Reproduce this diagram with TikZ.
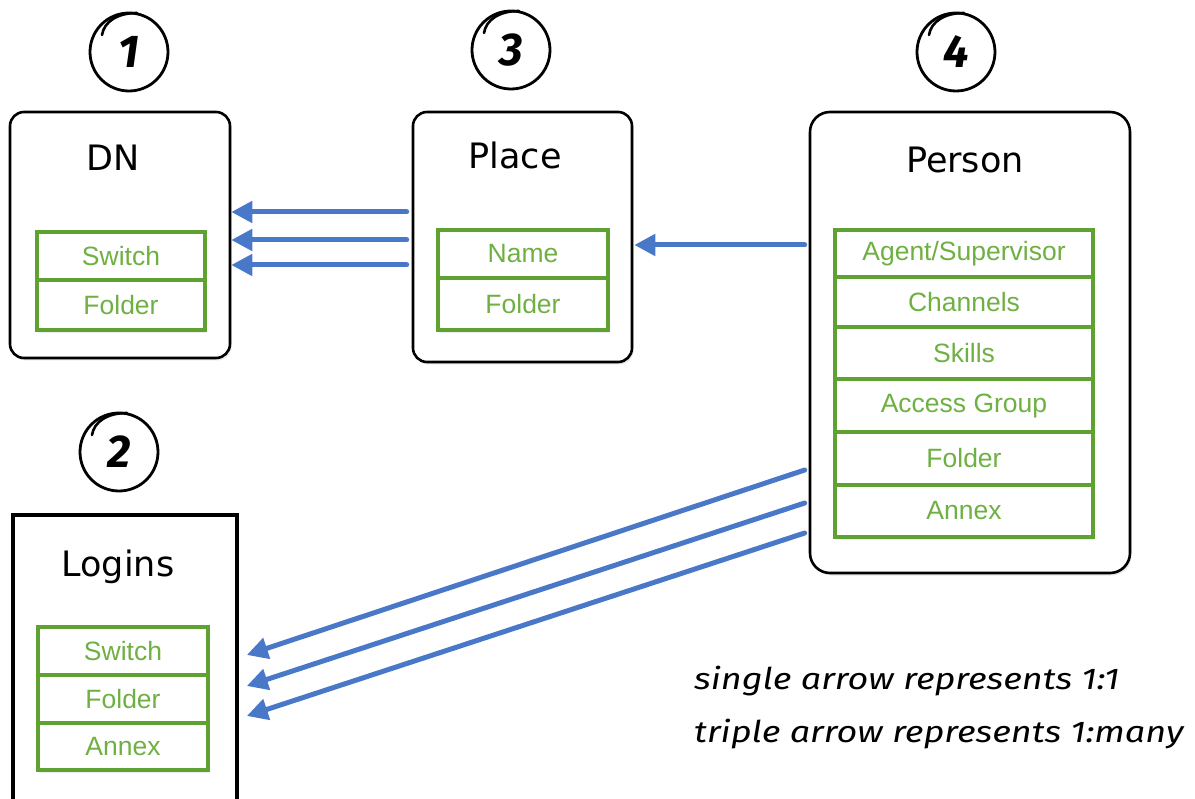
\documentclass[tikz,border=0pt]{standalone}
\usepackage{fontspec}
\setmainfont{Liberation Sans}
\newfontfamily\titlefont{DejaVu Sans}
\newfontfamily\notefont{Fira Sans}
\usetikzlibrary{arrows.meta,shadows,calc}

\definecolor{cellgreen}{HTML}{5FA231}
\definecolor{celltext}{HTML}{6FB043}
\definecolor{linkblue}{HTML}{4A78C8}

\tikzset{
  entity/.style={draw=black, line width=2.6pt, rounded corners=14pt, fill=white,
    drop shadow={opacity=0.18, shadow xshift=1.5pt, shadow yshift=-2.5pt}},
  title/.style={font=\titlefont\fontsize{35}{40}\selectfont, text=black},
  cell/.style={draw=cellgreen, line width=3.6pt, fill=white, inner sep=0pt,
    font=\fontsize{26.5}{30}\selectfont, text=celltext},
  cellshadow/.style={drop shadow={opacity=0.15,shadow xshift=1pt,shadow yshift=-3pt}},
  badge/.style={circle, draw=black, line width=2.8pt, minimum size=78pt, inner sep=0pt,
    font=\notefont\fontsize{46}{50}\selectfont\bfseries\itshape},
  badgestroke/.style={line width=2.6pt, line cap=round},
  link/.style={draw=linkblue, line width=5pt, line cap=round,
    -{Triangle[length=21pt,width=21pt]}},
  note/.style={font=\notefont\itshape\fontsize{30}{53}\selectfont, align=left, anchor=west,
    xscale=1.2, transform shape}
}

\begin{document}
\begin{tikzpicture}[x=1pt,y=-1pt]
\useasboundingbox (0,0) rectangle (1195,799);
\clip (0,0) rectangle (1195,799);

% numbered badges
\node[badge] (b1) at (129,52) {1};
\node[badge] (b3) at (511,50) {3};
\node[badge] (b4) at (956,52) {4};
\node[badge] (b2) at (119,452) {2};
% a second pen stroke inside the top-left of each ring
\foreach \b in {b1,b2,b3,b4}
  \draw[badgestroke] ($(\b.center)+(8,-39)$)
    .. controls ($(\b.center)+(-12,-39)$) and ($(\b.center)+(-25,-30)$)
    .. ($(\b.center)+(-27,-17)$);

% DN
\node[entity, minimum width=220pt, minimum height=246pt] (DN) at (120,235) {};
\node[title] (DNt) at (113,158) {DN};
\node[cell, cellshadow, minimum width=168pt, minimum height=50pt] (DNfo) at (121,305) {Folder};
\node[cell, minimum width=168pt, minimum height=48pt] (DNsw) at (121,256) {Switch};

% Place
\node[entity, minimum width=219pt, minimum height=250pt] (Place) at (522.5,237) {};
\node[title] (Placet) at (515,155) {Place};
\node[cell, cellshadow, minimum width=170pt, minimum height=52pt] (Plfo) at (523,304) {Folder};
\node[cell, minimum width=170pt, minimum height=48pt] (Plna) at (523,254) {Name};

% Person
\node[entity, rounded corners=20pt, minimum width=320pt, minimum height=461pt] (Person) at (970,342.5) {};
\node[title] (Persont) at (965,160) {Person};
\node[cell, cellshadow, minimum width=258pt, minimum height=52pt] (Pean) at (964,511) {Annex};
\node[cell, minimum width=258pt, minimum height=53pt] (Pefo) at (964,458.5) {Folder};
\node[cell, minimum width=258pt, minimum height=53pt] (Peac) at (964,405.5) {Access Group};
\node[cell, minimum width=258pt, minimum height=52pt] (Pesk) at (964,353) {Skills};
\node[cell, minimum width=258pt, minimum height=50pt] (Pech) at (964,302) {Channels};
\node[cell, minimum width=258pt, minimum height=47pt] (Peag) at (964,253.5) {Agent/Supervisor};

% Logins
\node[draw=black, line width=3.6pt, fill=white, minimum width=224pt, minimum height=305pt] (Logins) at (125,667.5) {};
\node[title] (Loginst) at (118,567) {Logins};
\node[cell, cellshadow, minimum width=170pt, minimum height=47pt] (Loan) at (123,746.5) {Annex};
\node[cell, minimum width=170pt, minimum height=48pt] (Lofo) at (123,699) {Folder};
\node[cell, minimum width=170pt, minimum height=48pt] (Losw) at (123,651) {Switch};

% Place -> DN (one to many)
\draw[link] ([xshift=-5pt]Place.west |- 0,212) -- (DN.east |- 0,212);
\draw[link] ([xshift=-5pt]Place.west |- 0,240) -- (DN.east |- 0,240);
\draw[link] ([xshift=-5pt]Place.west |- 0,265) -- (DN.east |- 0,265);

% Person -> Place (one to one)
\draw[link] ([xshift=-4pt]Person.west |- 0,245) -- ([xshift=1pt]Place.east |- 0,245);

% Person -> Logins (one to many)
\draw[link] ([xshift=-4pt]Person.west |- 0,470) -- ([xshift=8pt]Logins.east |- 0,655);
\draw[link] ([xshift=-4pt]Person.west |- 0,503) -- ([xshift=8pt]Logins.east |- 0,686);
\draw[link] ([xshift=-4pt]Person.west |- 0,533) -- ([xshift=8pt]Logins.east |- 0,716);

% legend
\node[note] (legend) at (690,708) {single arrow represents 1:1\\triple arrow represents 1:many};
\end{tikzpicture}
\end{document}
